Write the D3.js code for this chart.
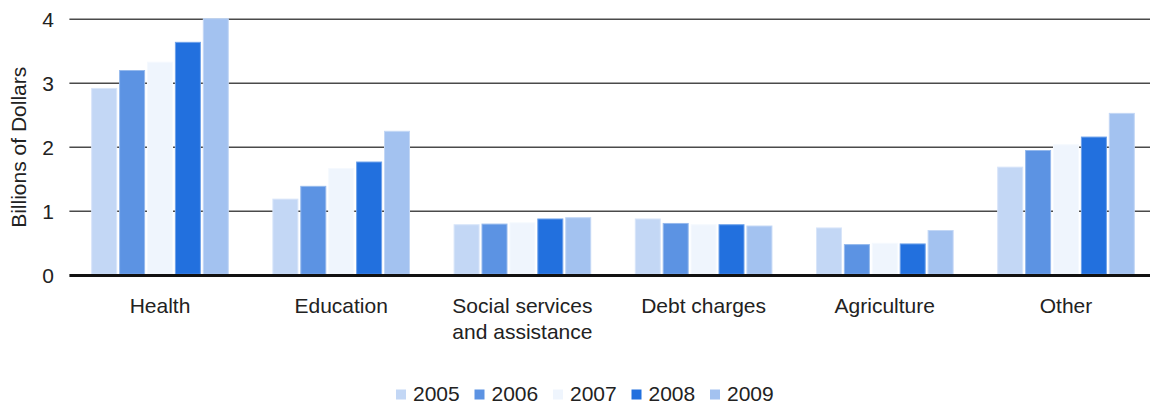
<!DOCTYPE html>
<html>
<head>
<meta charset="utf-8">
<script src="https://cdn.jsdelivr.net/npm/d3@7"></script>
<style>
  html, body { margin: 0; padding: 0; background: #fff; }
  svg { display: block; font-family: "Liberation Sans", Arial, sans-serif; }
</style>
</head>
<body>
<svg id="chart" width="1150" height="407"></svg>
<script>
// Spending by category, billions of dollars
const categories = ["Health", "Education", "Social services and assistance", "Debt charges", "Agriculture", "Other"];
const years = ["2005", "2006", "2007", "2008", "2009"];
const v2005 = [2.92, 1.19, 0.79, 0.88, 0.74, 1.69];
const v2006 = [3.20, 1.39, 0.80, 0.81, 0.48, 1.95];
const v2007 = [3.33, 1.67, 0.82, 0.79, 0.50, 2.04];
const v2008 = [3.64, 1.77, 0.88, 0.79, 0.49, 2.16];
const v2009 = [4.01, 2.25, 0.90, 0.77, 0.70, 2.53];
const yTicks = [0, 1, 2, 3, 4];
const colors = ["#c3d7f5", "#5c93e3", "#eff5fd", "#2270de", "#a3c2f0"];

const series = [v2005, v2006, v2007, v2008, v2009];
const rows = categories.map((c, i) => ({ category: c, values: years.map((yr, j) => ({ year: yr, value: series[j][i] })) }));

const svg = d3.select("#chart");
const W = 1150;
const left = 69.4;

const x0 = d3.scaleBand().domain(categories).range([left, 1156.6]).paddingInner(0.246).paddingOuter(0.123);
const x1 = d3.scaleBand().domain(years).range([0, x0.bandwidth()]).paddingInner(0.104).paddingOuter(0);
const y = d3.scaleLinear().domain([0, 4]).range([275.3, 19.3]);

// Gridlines
svg.append("g").selectAll("line").data(yTicks.filter(t => t > 0)).join("line")
  .attr("x1", left).attr("x2", W)
  .attr("y1", d => y(d)).attr("y2", d => y(d))
  .attr("stroke", "#4a4a4a").attr("stroke-width", 1.4);

// Y tick labels
svg.append("g").selectAll("text").data(yTicks).join("text")
  .attr("x", 54).attr("y", d => y(d)).attr("dy", "0.36em")
  .attr("text-anchor", "end").attr("font-size", 21).attr("fill", "#222")
  .text(d => d);

// Y axis title
svg.append("text")
  .attr("transform", `translate(26,${(y(0) + y(4)) / 2}) rotate(-90)`)
  .attr("text-anchor", "middle").attr("font-size", 21).attr("fill", "#222")
  .text("Billions of Dollars");

// Bars
const groups = svg.append("g").selectAll("g").data(rows).join("g")
  .attr("transform", d => `translate(${x0(d.category)},0)`);
groups.selectAll("rect").data(d => d.values).join("rect")
  .attr("x", d => x1(d.year))
  .attr("y", d => y(d.value))
  .attr("width", x1.bandwidth())
  .attr("height", d => y(0) - y(d.value) - 1)
  .attr("fill", (d, i) => colors[i])
  .attr("stroke", (d, i) => d3.interpolateRgb(colors[i], "#ffffff")(0.35))
  .attr("stroke-width", 1);

// Baseline
svg.append("line")
  .attr("x1", left).attr("x2", W)
  .attr("y1", y(0) + 0.3).attr("y2", y(0) + 0.3)
  .attr("stroke", "#111").attr("stroke-width", 3);

// Category labels, wrapped to the group width
const maxLabelW = 165;
const catLabels = svg.append("g").selectAll("text").data(categories).join("text")
  .attr("x", d => x0(d) + x0.bandwidth() / 2)
  .attr("y", 313)
  .attr("text-anchor", "middle").attr("font-size", 21).attr("fill", "#222");
catLabels.each(function(d) {
  const t = d3.select(this);
  const words = d.split(" ");
  let line = [];
  let lineNo = 0;
  let tspan = t.append("tspan").attr("x", t.attr("x")).attr("dy", 0);
  words.forEach(w => {
    line.push(w);
    tspan.text(line.join(" "));
    if (tspan.node().getComputedTextLength() > maxLabelW && line.length > 1) {
      line.pop();
      tspan.text(line.join(" "));
      line = [w];
      lineNo++;
      tspan = t.append("tspan").attr("x", t.attr("x")).attr("dy", 26).text(w);
    }
  });
});

// Legend
const legendStart = 396;
const legendStep = 78.5;
const legend = svg.append("g").selectAll("g").data(years).join("g")
  .attr("transform", (d, i) => `translate(${legendStart + i * legendStep},0)`);
legend.append("rect")
  .attr("x", 0).attr("y", 389.5).attr("width", 10).attr("height", 10)
  .attr("fill", (d, i) => colors[i]);
legend.append("text")
  .attr("x", 17).attr("y", 401)
  .attr("font-size", 21).attr("fill", "#222")
  .text(d => d);
</script>
</body>
</html>
